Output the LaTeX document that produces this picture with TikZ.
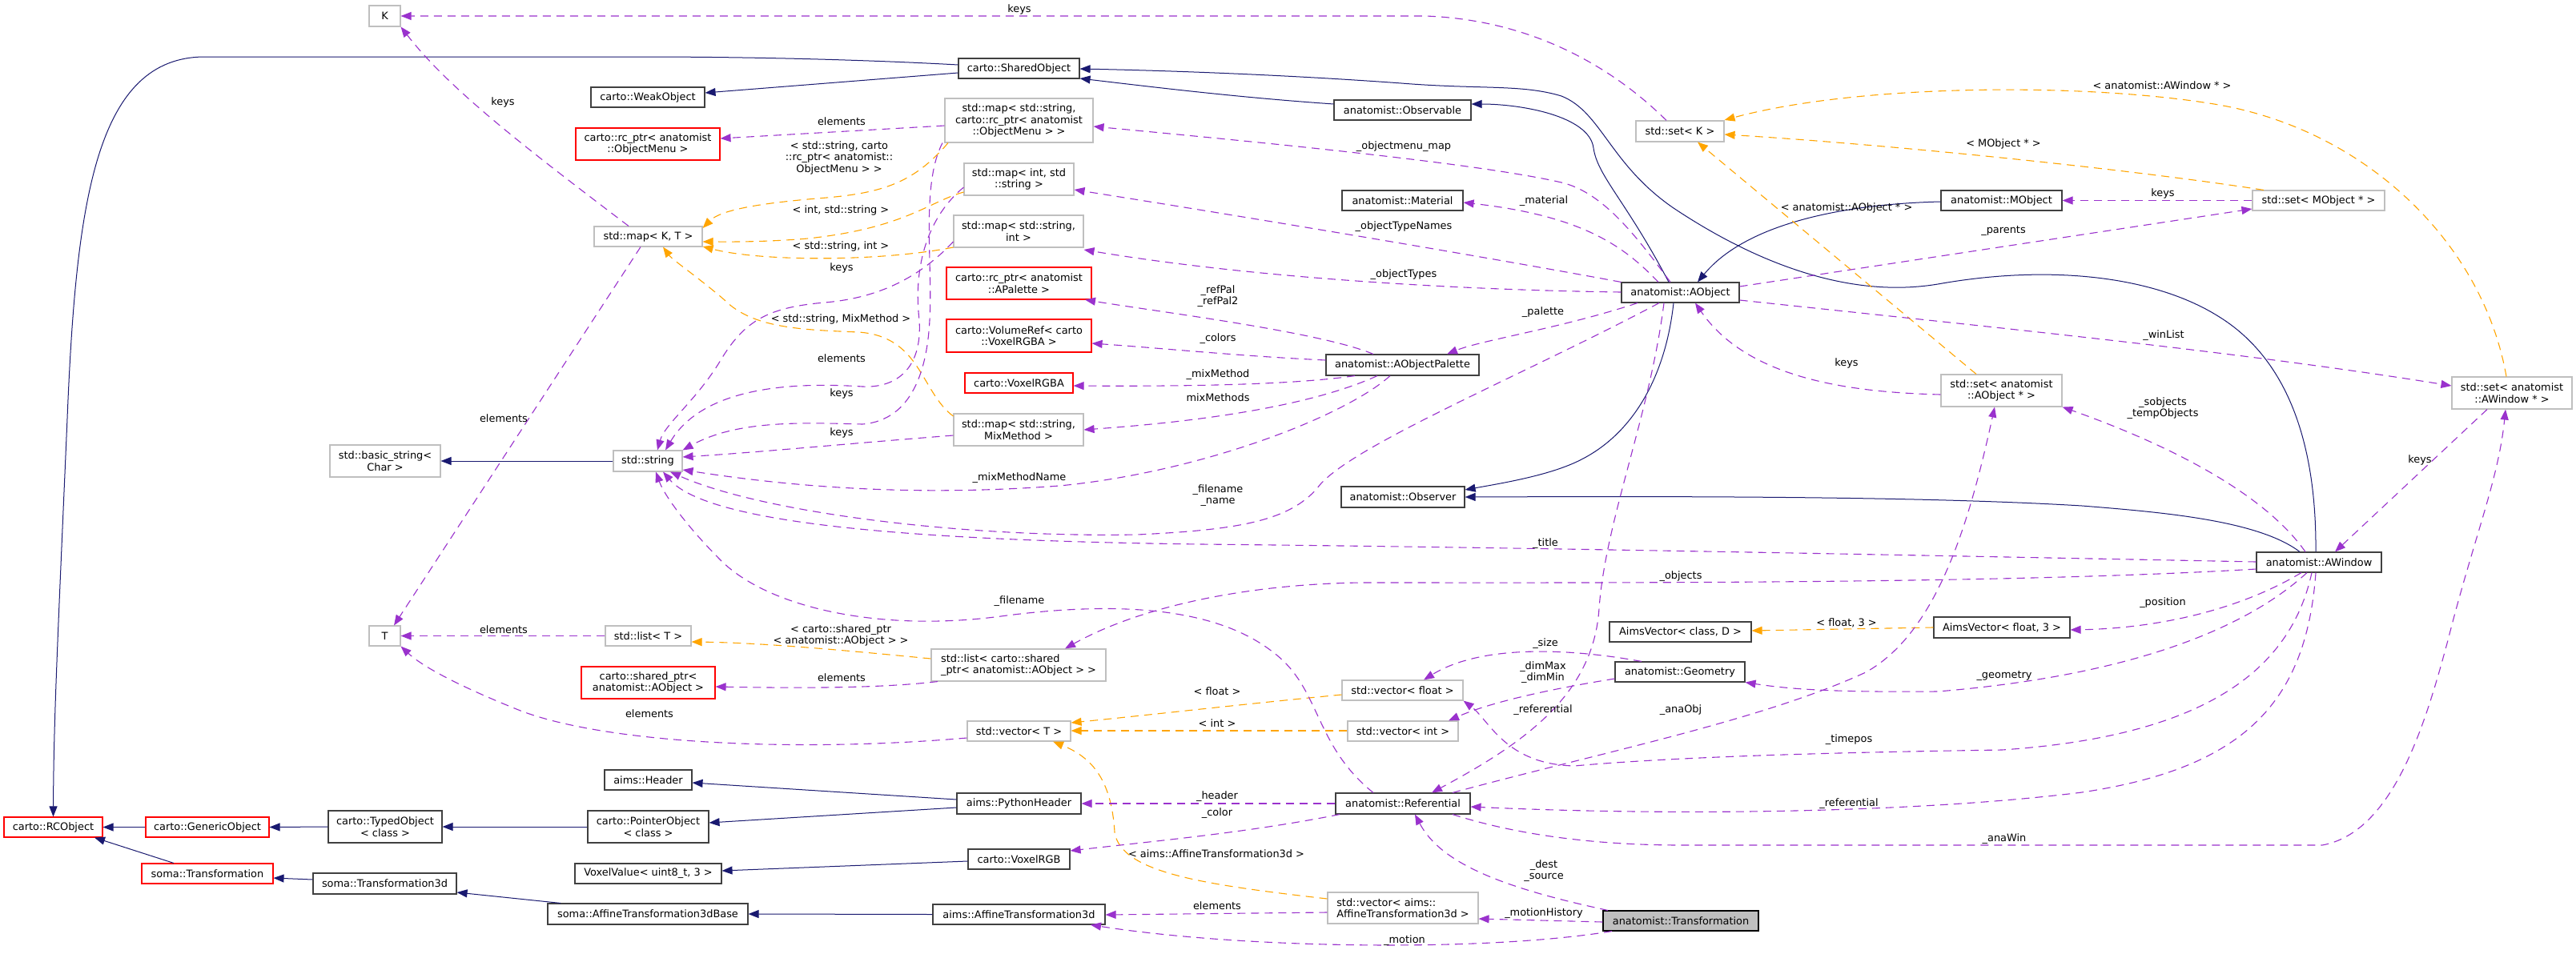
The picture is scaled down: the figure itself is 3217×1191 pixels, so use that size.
\documentclass[tikz,border=0pt]{standalone}
\usepackage{fontspec}
\setmainfont{DejaVu Sans}
\usetikzlibrary{arrows.meta}
\definecolor{mblue}{HTML}{191970}
\definecolor{purp}{HTML}{9A32CD}
\definecolor{orng}{HTML}{FFA500}
\definecolor{gbord}{HTML}{BFBFBF}
\definecolor{dbord}{HTML}{404040}
\newcommand\nfont{\fontsize{12.9}{14.5}\selectfont}
\newcommand\bx[7]{\node[#6, minimum width={#4-#2}, minimum height={#5-#3}] (#1) at ({(#2+#4)/2},{(#3+#5)/2}) {#7};}
\newcommand\lb[4]{\node[lbl] (#1) at (#2,#3) {#4};}
\tikzset{
 box/.style={draw, rectangle, inner sep=2pt, line width=1.1pt, fill=white, align=center, font=\nfont},
 dk/.style={box, draw=dbord},
 gr/.style={box, draw=gbord},
 rd/.style={box, draw=red},
 hl/.style={box, draw=black, fill=gbord},
 lbl/.style={inner sep=0pt, align=center, font=\nfont},
 tipstyle/.style={-{Triangle[length=13pt,width=10pt]}},
 inh/.style={draw=mblue, line width=1pt, tipstyle},
 tpl/.style={draw=orng, line width=1.1pt, dash pattern=on 10pt off 7pt, tipstyle},
 usg/.style={draw=purp, line width=1.1pt, dash pattern=on 10pt off 7pt, tipstyle},
}
\begin{document}
\begin{tikzpicture}[x=1pt,y=-1pt]
\useasboundingbox[fill=white] (0,0) rectangle (3217,1191);
% ---------- nodes ----------
\bx{K}{461}{7}{500}{33}{gr}{K}
\bx{weak}{738}{109}{880}{134}{dk}{carto::WeakObject}
\bx{rcom}{719}{160}{899}{200}{rd}{carto::rc\_ptr< anatomist\\::ObjectMenu >}
\bx{mapKT}{742}{283}{877}{308}{gr}{std::map< K, T >}
\bx{shared}{1197}{73}{1348}{98}{dk}{carto::SharedObject}
\bx{mapSR}{1180}{123}{1365}{178}{gr}{std::map< std::string,\\ carto::rc\_ptr< anatomist\\::ObjectMenu > >}
\bx{mapIS}{1204}{204}{1341}{244}{gr}{std::map< int, std\\::string >}
\bx{mapSI}{1191}{269}{1353}{309}{gr}{std::map< std::string,\\ int >}
\bx{rcap}{1182}{334}{1363}{374}{rd}{carto::rc\_ptr< anatomist\\::APalette >}
\bx{observable}{1666}{125}{1837}{150}{dk}{anatomist::Observable}
\bx{setK}{2043}{151}{2153}{177}{gr}{std::set< K >}
\bx{material}{1676}{238}{1827}{263}{dk}{anatomist::Material}
\bx{aobject}{2025}{353}{2172}{378}{dk}{anatomist::AObject}
\bx{mobject}{2424}{238}{2575}{263}{dk}{anatomist::MObject}
\bx{setM}{2813}{238}{2978}{263}{gr}{std::set< MObject * >}
\bx{bstr}{412}{556}{550}{596}{gr}{std::basic\_string<\\ Char >}
\bx{str}{766}{563}{852}{589}{gr}{std::string}
\bx{T}{461}{782}{500}{807}{gr}{T}
\bx{listT}{756}{782}{863}{807}{gr}{std::list< T >}
\bx{volref}{1182}{399}{1363}{440}{rd}{carto::VolumeRef< carto\\::VoxelRGBA >}
\bx{vrgba}{1205}{466}{1340}{491}{rd}{carto::VoxelRGBA}
\bx{mapSM}{1191}{517}{1353}{557}{gr}{std::map< std::string,\\ MixMethod >}
\bx{palette}{1656}{443}{1847}{469}{dk}{anatomist::AObjectPalette}
\bx{observer}{1675}{608}{1829}{634}{dk}{anatomist::Observer}
\bx{avCD}{2010}{777}{2187}{802}{dk}{AimsVector< class, D >}
\bx{setAO}{2424}{468}{2575}{508}{gr}{std::set< anatomist\\::AObject * >}
\bx{setAW}{3062}{471}{3212}{511}{gr}{std::set< anatomist\\::AWindow * >}
\bx{awindow}{2818}{690}{2974}{715}{dk}{anatomist::AWindow}
\bx{avF3}{2415}{771}{2585}{797}{dk}{AimsVector< float, 3 >}
\bx{rcobj}{5}{1021}{128}{1046}{rd}{carto::RCObject}
\bx{generic}{182}{1021}{336}{1046}{rd}{carto::GenericObject}
\bx{typed}{410}{1013}{552}{1053}{dk}{carto::TypedObject\\< class >}
\bx{pointer}{734}{1013}{885}{1053}{dk}{carto::PointerObject\\< class >}
\bx{somaT}{177}{1079}{341}{1104}{rd}{soma::Transformation}
\bx{somaT3}{391}{1091}{570}{1117}{dk}{soma::Transformation3d}
\bx{somaA}{684}{1129}{934}{1155}{dk}{soma::AffineTransformation3dBase}
\bx{header}{755}{962}{864}{987}{dk}{aims::Header}
\bx{voxval}{718}{1079}{901}{1104}{dk}{VoxelValue< uint8\_t, 3 >}
\bx{sptr}{726}{833}{893}{873}{rd}{carto::shared\_ptr<\\ anatomist::AObject >}
\bx{listSP}{1163}{811}{1381}{851}{gr,align=left}{std::list< carto::shared\\\_ptr< anatomist::AObject > >}
\bx{vecT}{1208}{901}{1337}{926}{gr}{std::vector< T >}
\bx{pyh}{1195}{991}{1350}{1017}{dk}{aims::PythonHeader}
\bx{vrgb}{1209}{1061}{1336}{1086}{dk}{carto::VoxelRGB}
\bx{aaff}{1165}{1130}{1380}{1155}{dk}{aims::AffineTransformation3d}
\bx{geom}{2017}{827}{2179}{852}{dk}{anatomist::Geometry}
\bx{vecF}{1676}{850}{1827}{875}{gr}{std::vector< float >}
\bx{vecI}{1683}{901}{1821}{926}{gr}{std::vector< int >}
\bx{ref}{1668}{991}{1836}{1017}{dk}{anatomist::Referential}
\bx{vecA}{1658}{1115}{1846}{1154}{gr,align=left}{std::vector< aims::\\AffineTransformation3d >}
\bx{trans}{2002}{1138}{2196}{1163}{hl}{anatomist::Transformation}
% ---------- inheritance ----------
\draw[inh] (shared.west |- 0,81) .. controls (1050,73) and (900,71) .. (800,71) -- (256,71) .. controls (120,71) and (95,250) .. (84,523) .. controls (72,800) and (67,900) .. (rcobj.north);
\draw[inh] (shared.west |- 0,91) -- (weak.east |- 0,116);
\draw[inh] (observable.west |- 0,130) .. controls (1550,122) and (1450,110) .. (shared.east |- 0,98);
\draw[inh] (awindow.north -| 2892,0) .. controls (2893,560) and (2860,450) .. (2770,395) .. controls (2690,345) and (2560,330) .. (2420,355) .. controls (2300,375) and (2180,320) .. (2090,260) .. controls (2010,205) and (2000,140) .. (1950,120) .. controls (1900,105) and (1850,112) .. (1750,104) .. controls (1600,93) and (1450,88) .. (shared.east |- 0,86);
\draw[inh] (aobject.north -| 2084,0) .. controls (2030,250) and (1995,220) .. (1990,185) .. controls (1985,145) and (1900,130) .. (observable.east |- 0,130);
\draw[inh] (mobject.west |- 0,252) .. controls (2300,255) and (2180,280) .. (aobject.north -| 2120,0);
\draw[inh] (aobject.south -| 2090,0) .. controls (2080,470) and (2040,540) .. (1977,573) .. controls (1940,593) and (1880,603) .. (observer.east |- 0,612);
\draw[inh] (awindow.north -| 2872,0) .. controls (2820,650) and (2700,640) .. (2600,632) .. controls (2400,620) and (2100,620) .. (observer.east |- 0,621);
\draw[inh] (str.west) -- (bstr.east);
\draw[inh] (generic.west) -- (rcobj.east);
\draw[inh] (typed.west) -- (generic.east);
\draw[inh] (pointer.west) -- (typed.east);
\draw[inh] (pyh.west |- 0,999) -- (header.east |- 0,978);
\draw[inh] (pyh.west |- 0,1009) -- (pointer.east |- 0,1028);
\draw[inh] (vrgb.west |- 0,1076) -- (voxval.east |- 0,1088);
\draw[inh] (somaT.north -| 217,0) -- (rcobj.south -| 118,0);
\draw[inh] (somaT3.west |- 0,1099) -- (somaT.east |- 0,1097);
\draw[inh] (somaA.north -| 700,0) -- (somaT3.east |- 0,1115);
\draw[inh] (aaff.west) -- (somaA.east);
% ---------- template instances ----------
\draw[tpl] (setAW.north -| 3130,0) .. controls (3100,300) and (2950,160) .. (2765,130) .. controls (2600,103) and (2320,105) .. (setK.east |- 0,150);
\draw[tpl] (setM.north -| 2827,0) .. controls (2650,210) and (2350,180) .. (setK.east |- 0,168);
\draw[tpl] (setAO.north -| 2468,0) -- (setK.south -| 2120,0);
\draw[tpl] (mapSR.south -| 1184,0) .. controls (1140,230) and (1100,242) .. (1020,248) .. controls (950,254) and (900,262) .. (mapKT.east |- 0,285);
\draw[tpl] (mapIS.west |- 0,240) .. controls (1160,252) and (1130,285) .. (1009,298) .. controls (950,303) and (900,302) .. (mapKT.east |- 0,302);
\draw[tpl] (mapSI.west |- 0,309) .. controls (1100,327) and (950,327) .. (mapKT.east |- 0,308);
\draw[tpl] (mapSM.west |- 0,520) .. controls (1150,490) and (1150,420) .. (1072,415) .. controls (1000,412) and (940,410) .. (905,375) .. controls (870,345) and (840,325) .. (mapKT.south -| 828,0);
\draw[tpl] (listSP.west |- 0,823) .. controls (1050,812) and (950,803) .. (listT.east |- 0,802);
\draw[tpl] (vecF.west |- 0,868) .. controls (1550,880) and (1420,895) .. (vecT.east |- 0,903);
\draw[tpl] (vecI.west |- 0,913) -- (vecT.east |- 0,913);
\draw[tpl] (vecA.west |- 0,1123) .. controls (1500,1105) and (1400,1090) .. (1392,1040) .. controls (1388,970) and (1360,945) .. (vecT.south -| 1315,0);
\draw[tpl] (avF3.west) -- (avCD.east |- 0,788);
% ---------- usage ----------
\draw[usg] (setK.north -| 2081,0) .. controls (2020,90) and (1920,25) .. (1780,20) -- (K.east);
\draw[usg] (mapKT.north -| 785,0) .. controls (650,180) and (560,110) .. (K.south east);
\draw[usg] (mapKT.south -| 800,0) -- (T.north -| 492,0);
\draw[usg] (mapSR.west |- 0,157) -- (rcom.east |- 0,173);
\draw[usg] (mapSR.south -| 1177,0) .. controls (1150,230) and (1165,330) .. (1161,400) .. controls (1158,460) and (1140,525) .. (1077,530) .. controls (1000,528) and (920,525) .. (str.north east);
\draw[usg] (mapIS.west |- 0,234) .. controls (1160,270) and (1140,330) .. (1148,400) .. controls (1152,460) and (1120,485) .. (1077,483) .. controls (1000,478) and (880,480) .. (str.north -| 831,0);
\draw[usg] (mapSI.west |- 0,302) .. controls (1150,345) and (1100,372) .. (1030,378) .. controls (960,384) and (930,400) .. (900,450) .. controls (870,500) and (830,530) .. (str.north -| 821,0);
\draw[usg] (mapSM.west |- 0,544) .. controls (1050,555) and (950,565) .. (str.east |- 0,571);
\draw[usg] (palette.north -| 1715,0) .. controls (1650,415) and (1450,390) .. (rcap.south -| 1355,0);
\draw[usg] (palette.west |- 0,450) .. controls (1550,445) and (1450,435) .. (volref.east |- 0,429);
\draw[usg] (palette.south -| 1692,0) .. controls (1620,480) and (1500,483) .. (vrgba.east |- 0,482);
\draw[usg] (palette.south -| 1720,0) .. controls (1620,515) and (1450,530) .. (mapSM.east |- 0,537);
\draw[usg] (palette.south -| 1736,0) .. controls (1680,520) and (1500,590) .. (1323,607) .. controls (1150,620) and (1000,610) .. (str.east |- 0,587);
\draw[usg] (aobject.south -| 2072,0) .. controls (1900,470) and (1680,560) .. (1645,610) .. controls (1610,650) and (1550,662) .. (1420,668) .. controls (1200,672) and (950,640) .. (str.south -| 837,0);
\draw[usg] (awindow.west |- 0,702) .. controls (2300,692) and (1900,684) .. (1500,680) .. controls (1100,675) and (880,650) .. (str.south -| 828,0);
\draw[usg] (ref.north -| 1715,0) .. controls (1640,930) and (1650,860) .. (1590,815) .. controls (1520,760) and (1400,750) .. (1250,770) .. controls (1100,790) and (960,760) .. (900,700) .. controls (860,660) and (830,620) .. (str.south -| 819,0);
\draw[usg] (aobject.north -| 2086,0) .. controls (2040,290) and (2000,240) .. (1950,228) .. controls (1850,205) and (1600,180) .. (mapSR.east |- 0,158);
\draw[usg] (aobject.north -| 2071,0) .. controls (2030,310) and (1980,270) .. (material.east |- 0,253);
\draw[usg] (aobject.north west) .. controls (1850,320) and (1550,270) .. (mapIS.east |- 0,237);
\draw[usg] (aobject.west |- 0,365) .. controls (1800,362) and (1550,345) .. (mapSI.east |- 0,312);
\draw[usg] (aobject.south -| 2045,0) .. controls (1950,410) and (1850,425) .. (palette.north -| 1807,0);
\draw[usg] (aobject.east |- 0,358) -- (setM.west |- 0,261);
\draw[usg] (aobject.east |- 0,375) .. controls (2500,410) and (2800,440) .. (setAW.west |- 0,482);
\draw[usg] (setM.west) -- (mobject.east);
\draw[usg] (setAO.west |- 0,493) .. controls (2300,490) and (2180,470) .. (aobject.south -| 2117,0);
\draw[usg] (awindow.north -| 2879,0) .. controls (2830,620) and (2720,560) .. (setAO.south east);
\draw[usg] (setAW.south -| 3106,0) -- (awindow.north -| 2916,0);
\draw[usg] (awindow.west |- 0,711) .. controls (2500,730) and (2000,728) .. (1700,728) .. controls (1550,730) and (1420,760) .. (listSP.north -| 1330,0);
\draw[usg] (awindow.south -| 2874,0) .. controls (2800,760) and (2700,785) .. (avF3.east |- 0,787);
\draw[usg] (awindow.south -| 2881,0) .. controls (2800,790) and (2650,845) .. (2420,864) .. controls (2300,865) and (2240,862) .. (geom.south east);
\draw[usg] (awindow.south -| 2887,0) .. controls (2860,840) and (2750,920) .. (2500,937) .. controls (2300,940) and (2100,945) .. (1966,957) .. controls (1880,955) and (1860,900) .. (vecF.south east);
\draw[usg] (awindow.south -| 2892,0) .. controls (2880,880) and (2800,960) .. (2600,990) .. controls (2400,1015) and (2100,1020) .. (ref.east |- 0,1008);
\draw[usg] (ref.south -| 1814,0) .. controls (1900,1045) and (2000,1056) .. (2100,1056) -- (2900,1056) .. controls (2990,1040) and (3030,900) .. (3057,800) .. controls (3090,670) and (3120,600) .. (setAW.south -| 3129,0);
\draw[usg] (ref.north -| 1814,0) .. controls (2000,940) and (2200,900) .. (2330,840) .. controls (2420,790) and (2460,650) .. (setAO.south -| 2491,0);
\draw[usg] (geom.north -| 2050,0) .. controls (1960,810) and (1850,805) .. (vecF.north -| 1778,0);
\draw[usg] (geom.west |- 0,848) .. controls (1930,862) and (1860,878) .. (vecI.north -| 1809,0);
\draw[usg] (aobject.south -| 2078,0) .. controls (2060,520) and (2005,650) .. (1997,760) .. controls (1990,870) and (1900,930) .. (ref.north -| 1788,0);
\draw[usg] (trans.north -| 2008,0) .. controls (1880,1110) and (1800,1080) .. (ref.south -| 1767,0);
\draw[usg] (trans.west |- 0,1152) -- (vecA.east |- 0,1148);
\draw[usg] (trans.south -| 2013,0) .. controls (1850,1190) and (1550,1185) .. (aaff.south -| 1362,0);
\draw[usg] (vecA.west |- 0,1140) -- (aaff.east |- 0,1143);
\draw[usg] (ref.west |- 0,1004) -- (pyh.east |- 0,1004);
\draw[usg] (ref.south -| 1673,0) .. controls (1560,1040) and (1450,1050) .. (vrgb.east |- 0,1063);
\draw[usg] (vecT.west |- 0,922) .. controls (1000,940) and (760,930) .. (650,888) .. controls (580,860) and (530,835) .. (T.south east);
\draw[usg] (listT.west) -- (T.east);
\draw[usg] (listSP.south -| 1171,0) .. controls (1100,860) and (1000,860) .. (sptr.east |- 0,858);
% ---------- labels ----------
\lb{l1}{1273}{12}{keys}
\lb{l2}{628}{128}{keys}
\lb{l3}{629}{523}{elements}
\lb{l4}{1051}{152}{elements}
\lb{l5}{1048}{197}{< std::string, carto\\::rc\_ptr< anatomist::\\ObjectMenu > >}
\lb{l6}{1050}{263}{< int, std::string >}
\lb{l7}{1050}{308}{< std::string, int >}
\lb{l8}{1051}{335}{keys}
\lb{l9}{1521}{370}{\_refPal\\\_refPal2}
\lb{l10}{1050}{399}{< std::string, MixMethod >}
\lb{l11}{1753}{183}{\_objectmenu\_map}
\lb{l12}{1928}{251}{\_material}
\lb{l13}{1753}{283}{\_objectTypeNames}
\lb{l14}{1753}{343}{\_objectTypes}
\lb{l15}{2306}{260}{< anatomist::AObject * >}
\lb{l16}{1927}{390}{\_palette}
\lb{l17}{2700}{107}{< anatomist::AWindow * >}
\lb{l18}{2502}{180}{< MObject * >}
\lb{l19}{2701}{242}{keys}
\lb{l20}{2502}{288}{\_parents}
\lb{l21}{1051}{448}{elements}
\lb{l22}{1051}{492}{keys}
\lb{l23}{1051}{541}{keys}
\lb{l24}{1521}{423}{\_colors}
\lb{l25}{1521}{468}{\_mixMethod}
\lb{l26}{1521}{497}{mixMethods}
\lb{l27}{1273}{597}{\_mixMethodName}
\lb{l28}{1521}{619}{\_filename\\\_name}
\lb{l29}{1273}{751}{\_filename}
\lb{l30}{1050}{794}{< carto::shared\_ptr\\< anatomist::AObject > >}
\lb{l31}{2306}{454}{keys}
\lb{l32}{1930}{679}{\_title}
\lb{l33}{2099}{720}{\_objects}
\lb{l34}{2306}{778}{< float, 3 >}
\lb{l35}{1930}{804}{\_size}
\lb{l36}{2702}{419}{\_winList}
\lb{l37}{2701}{510}{\_sobjects\\\_tempObjects}
\lb{l38}{3022}{575}{keys}
\lb{l39}{2701}{753}{\_position}
\lb{l40}{1051}{847}{elements}
\lb{l41}{811}{892}{elements}
\lb{l42}{1520}{864}{< float >}
\lb{l43}{1520}{904}{< int >}
\lb{l44}{1520}{995}{\_header}
\lb{l45}{1520}{1016}{\_color}
\lb{l46}{1519}{1067}{< aims::AffineTransformation3d >}
\lb{l47}{1520}{1132}{elements}
\lb{l48}{1927}{840}{\_dimMax\\\_dimMin}
\lb{l49}{1927}{887}{\_referential}
\lb{l50}{2099}{887}{\_anaObj}
\lb{l51}{2309}{924}{\_timepos}
\lb{l52}{2309}{1004}{\_referential}
\lb{l53}{1928}{1088}{\_dest\\\_source}
\lb{l54}{1928}{1141}{\_motionHistory}
\lb{l55}{1754}{1175}{\_motion}
\lb{l56}{2503}{844}{\_geometry}
\lb{l57}{2503}{1048}{\_anaWin}
\lb{l58}{629}{787}{elements}
\end{tikzpicture}
\end{document}
